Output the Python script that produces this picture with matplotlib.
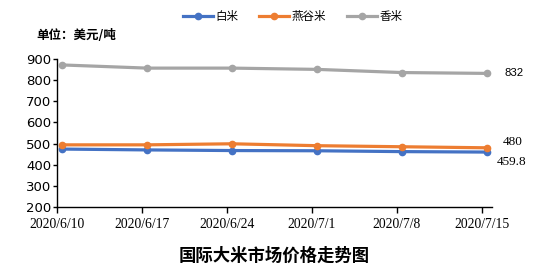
import matplotlib
matplotlib.use("Agg")
import matplotlib.pyplot as plt

plt.rcParams['font.family'] = ['Noto Sans CJK SC', 'DejaVu Sans']

dates = ["2020/6/10", "2020/6/17", "2020/6/24", "2020/7/1", "2020/7/8", "2020/7/15"]
white_rice = [474, 470, 467, 466, 462, 459.8]
oat_rice = [494, 494, 499, 490, 485, 480]
fragrant_rice = [872, 857, 857, 851, 836, 832]
series_names = ["白米", "燕谷米", "香米"]
colors = ["#4472C4", "#ED7D31", "#A5A5A5"]
y_ticks = [200, 300, 400, 500, 600, 700, 800, 900]

fig = plt.figure(figsize=(5.42, 2.72), dpi=100)
ax = fig.add_axes([0.105, 0.239, 0.803, 0.544])

x = list(range(len(dates)))
handles = []
for vals, name, c in zip([white_rice, oat_rice, fragrant_rice], series_names, colors):
    h, = ax.plot(x, vals, color=c, lw=2.3, marker='o', ms=4.5, label=name)
    handles.append(h)

off = 0.06
ax.set_xlim(-off, len(dates) - 1 + off)
ax.set_ylim(200, 900)
ax.set_xticks([i - off for i in x])
ax.set_xticklabels(dates, fontfamily=['Liberation Serif'], fontsize=9.8)
ax.set_yticks(y_ticks)
ax.set_yticklabels([str(v) for v in y_ticks], fontfamily=['DejaVu Sans'], fontsize=9.5)
ax.tick_params(axis='x', direction='out', length=4, width=1, pad=4, colors='black')
ax.tick_params(axis='y', direction='out', length=3, width=1, pad=1, colors='black')
for s in ['top', 'right']:
    ax.spines[s].set_visible(False)
for s in ['left', 'bottom']:
    ax.spines[s].set_color('black')
    ax.spines[s].set_linewidth(1)

# end labels
last = len(dates) - 1
ax.annotate("832", (last, fragrant_rice[-1]), xytext=(17, 0), textcoords='offset pixels',
            va='center', ha='left', fontsize=8.2, fontfamily=['Liberation Sans'])
ax.annotate("480", (last, oat_rice[-1]), xytext=(16, 6), textcoords='offset pixels',
            va='center', ha='left', fontsize=9.5, fontfamily=['Liberation Serif'])
ax.annotate(f"{white_rice[-1]}", (last, white_rice[-1]), xytext=(10, -10), textcoords='offset pixels',
            va='center', ha='left', fontsize=9.5, fontfamily=['Liberation Serif'])

fig.legend(handles=handles, labels=series_names, loc='center', bbox_to_anchor=(0.54, 0.938),
           ncol=3, frameon=False, fontsize=8.3, handlelength=2.6, columnspacing=1.8,
           handletextpad=0.2)

fig.text(0.068, 0.87, "单位：美元/吨", fontsize=9, fontweight='bold', ha='left', va='center')
fig.text(0.505, 0.06, "国际大米市场价格走势图", fontsize=12.5, fontweight='bold', ha='center', va='center')

fig.savefig("out.png", dpi=100)
